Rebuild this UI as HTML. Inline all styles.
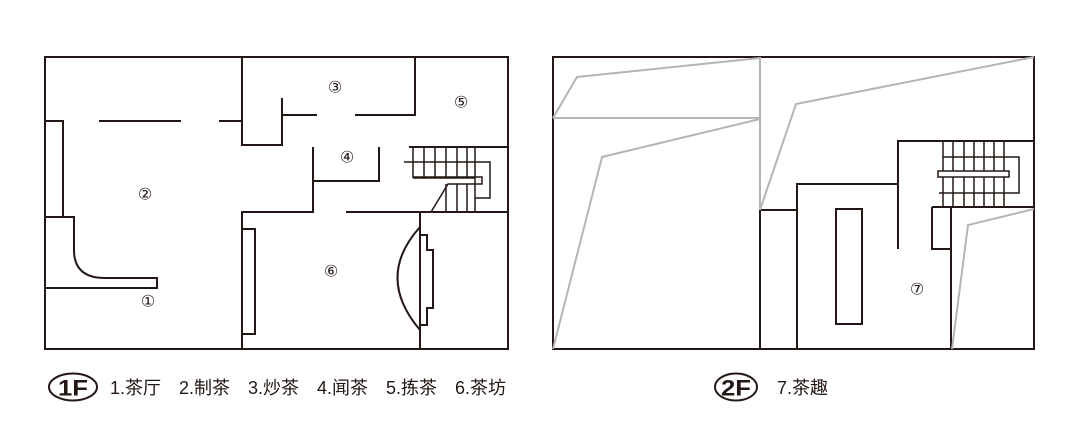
<!DOCTYPE html>
<html><head><meta charset="utf-8"><style>
body{margin:0;background:#fff;width:1080px;height:435px;overflow:hidden;font-family:"Liberation Sans","Noto Sans CJK SC",sans-serif}
svg{position:absolute;left:0;top:0}
</style></head><body>
<svg width="1080" height="435" viewBox="0 0 1080 435">
<g fill="none" stroke="#231815" stroke-width="2">
<rect x="45" y="57" width="463" height="292"/>
<polyline points="242,57 242,145 282,145 282,98"/>
<line x1="99" y1="121" x2="181" y2="121"/>
<line x1="219" y1="121" x2="242" y2="121"/>
<line x1="282" y1="115" x2="317" y2="115"/>
<polyline points="355,115 415,115 415,57"/>
<polyline points="45,121 63,121 63,217"/>
<path d="M45,217 H74 V250 Q74,278 105,278 H157 V288 H45"/>
<polyline points="313,147 313,212 242,212 242,349"/>
<polyline points="313,181 379,181 379,147"/>
<line x1="346" y1="212" x2="508" y2="212"/>
<rect x="242" y="229" width="13" height="105"/>
<line x1="420" y1="212" x2="420" y2="349"/>
<path d="M420,227 Q375,277 420,330"/>
<polyline points="420,227 420,235 427,235 427,250 433,250 433,308 427,308 427,325 420,325 420,330"/>
<line x1="409" y1="147" x2="508" y2="147"/>
<g stroke-width="1.5">
<line x1="413" y1="147" x2="413" y2="178"/><line x1="424" y1="147" x2="424" y2="178"/><line x1="435" y1="147" x2="435" y2="178"/><line x1="446" y1="147" x2="446" y2="178"/><line x1="457" y1="147" x2="457" y2="178"/><line x1="467" y1="147" x2="467" y2="178"/><line x1="475" y1="147" x2="475" y2="212"/>
<line x1="446" y1="184" x2="446" y2="212"/><line x1="457" y1="184" x2="457" y2="212"/><line x1="467" y1="184" x2="467" y2="212"/>
<line x1="413" y1="178" x2="475" y2="178"/>
<polyline points="404,162 490,162 490,198 475,198"/>
<polyline points="413,177 482,177 482,184 448,184 431,212"/>
</g>
<rect x="553" y="57" width="481" height="292"/>
<polyline points="760,349 760,210 797,210"/>
<polyline points="797,349 797,184 898,184"/>
<polyline points="898,249 898,141 1034,141"/>
<line x1="932" y1="207" x2="1034" y2="207"/>
<polyline points="932,207 932,249 951,249"/>
<line x1="951" y1="207" x2="951" y2="349"/>
<rect x="836" y="209" width="26" height="115"/>
<g stroke-width="1.5">
<line x1="943" y1="141" x2="943" y2="207"/><line x1="953" y1="141" x2="953" y2="207"/><line x1="964" y1="141" x2="964" y2="207"/><line x1="974" y1="141" x2="974" y2="207"/><line x1="984" y1="141" x2="984" y2="207"/><line x1="994" y1="141" x2="994" y2="207"/><line x1="1004" y1="141" x2="1004" y2="207"/>
<rect x="938" y="171" width="71" height="6" fill="#fff"/>
<polyline points="943,157 1019,157 1019,193 939,193"/>
</g>
</g>
<g fill="none" stroke="#b5b5b5" stroke-width="2">
<line x1="760" y1="57" x2="760" y2="210"/>
<line x1="553" y1="118" x2="760" y2="118"/>
<polyline points="553,118 577,77 760,58"/>
<polyline points="553,349 602,157 760,119"/>
<polyline points="760,210 796,104 1034,57"/>
<polyline points="952,349 968,225 1034,209"/>
</g>
<g font-family="'Liberation Sans','DejaVu Sans','Noto Sans CJK SC',sans-serif" font-size="16" fill="#231815" text-anchor="middle" dominant-baseline="central">
<text x="335" y="88">③</text><text x="461" y="103">⑤</text><text x="347" y="158">④</text><text x="145" y="195">②</text><text x="331" y="272">⑥</text><text x="148" y="302">①</text><text x="917" y="290">⑦</text>
</g>
<g fill="none" stroke="#231815" stroke-width="2">
<ellipse cx="73" cy="387" rx="24" ry="13.5"/>
<ellipse cx="736" cy="387" rx="21" ry="13.5"/>
</g>
<g font-family="'Liberation Sans','Noto Sans CJK SC',sans-serif" fill="#231815" dominant-baseline="central">
<text x="73" y="388" font-size="22" font-weight="bold" text-anchor="middle" textLength="30" lengthAdjust="spacingAndGlyphs">1F</text>
<text x="736" y="388" font-size="22" font-weight="bold" text-anchor="middle" textLength="30" lengthAdjust="spacingAndGlyphs">2F</text>
<g font-size="18">
<text x="110" y="388">1.茶厅</text>
<text x="179" y="388">2.制茶</text>
<text x="248" y="388">3.炒茶</text>
<text x="317" y="388">4.闻茶</text>
<text x="386" y="388">5.拣茶</text>
<text x="455" y="388">6.茶坊</text>
<text x="777" y="388">7.茶趣</text>
</g>
</g>
</svg>
</body></html>
